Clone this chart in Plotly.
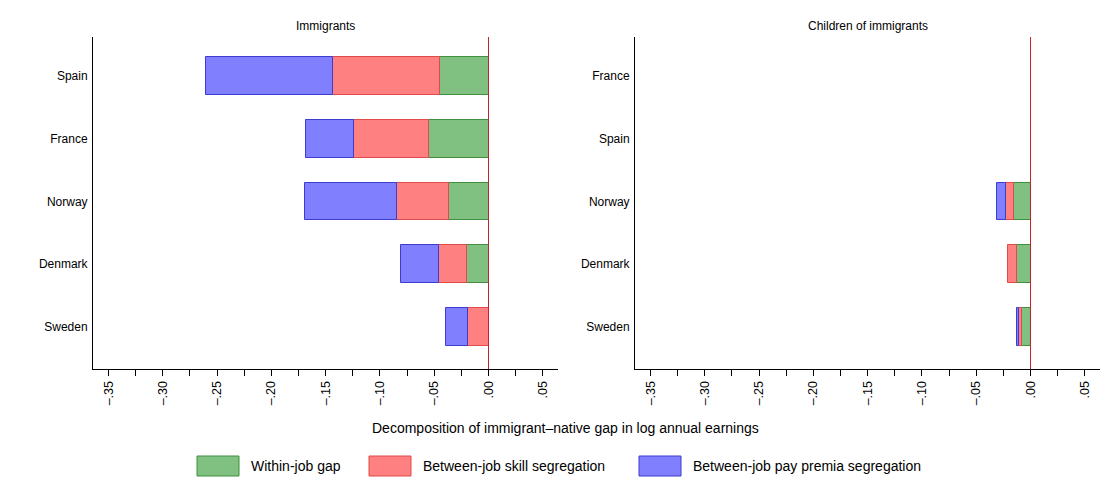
import plotly.graph_objects as go

# ---- data ----
countries_imm = ["Spain", "France", "Norway", "Denmark", "Sweden"]
within_imm = [-0.045, -0.055, -0.036, -0.020, 0.0]
skill_imm = [-0.098, -0.069, -0.048, -0.026, -0.019]
premia_imm = [-0.117, -0.044, -0.085, -0.035, -0.020]

countries_child = ["France", "Spain", "Norway", "Denmark", "Sweden"]
within_child = [None, None, -0.015, -0.012, -0.0075]
skill_child = [None, None, -0.0075, -0.0087, -0.003]
premia_child = [None, None, -0.008, 0.0004, -0.0016]

series_names = ["Within-job gap", "Between-job skill segregation", "Between-job pay premia segregation"]
panel_titles = ["Immigrants", "Children of immigrants"]
tick_vals = [-0.35, -0.30, -0.25, -0.20, -0.15, -0.10, -0.05, 0.0, 0.05]
tick_text = ["\u2013.35", "\u2013.30", "\u2013.25", "\u2013.20", "\u2013.15", "\u2013.10", "\u2013.05", ".00", ".05"]
minor_vals = [-0.325, -0.275, -0.225, -0.175, -0.125, -0.075, -0.025, 0.025]
x_title = "Decomposition of immigrant\u2013native gap in log annual earnings"

fills = ["#80c080", "#ff8080", "#8080ff"]
edges = ["#3f8f3f", "#e04a4a", "#3c3cd0"]
FONT = "Liberation Sans, Arial, sans-serif"

W, H = 1111, 490
OFF = 8  # page body margin


def px(x):
    return (x - OFF) / W


def py(y):
    return 1 - (y - OFF) / H


fig = go.Figure()

panels = [
    (countries_imm, [within_imm, skill_imm, premia_imm], "x", "y"),
    (countries_child, [within_child, skill_child, premia_child], "x2", "y2"),
]
for cats, vals, xa, ya in panels:
    for i, v in enumerate(vals):
        fig.add_trace(go.Bar(
            y=cats, x=v, orientation="h", name=series_names[i],
            marker=dict(color=fills[i], line=dict(color=edges[i], width=1)),
            width=0.6, xaxis=xa, yaxis=ya, showlegend=False,
        ))

x_range = [-0.3643, 0.064]
y_top, y_bot = py(37), py(369)


def xax(domain, anchor):
    return dict(
        domain=domain, anchor=anchor, range=x_range, showgrid=False, zeroline=False,
        showline=True, linecolor="black", linewidth=1,
        tickmode="array", tickvals=tick_vals, ticktext=tick_text, tickangle=-90,
        ticks="outside", ticklen=6, tickcolor="black", tickwidth=1,
        minor=dict(tickvals=minor_vals, ticks="outside", ticklen=6,
                   tickcolor="black", tickwidth=1),
        tickfont=dict(family=FONT, size=12.5, color="black"),
        ticklabelstandoff=0,
    )


def yax(domain, anchor, cats):
    return dict(
        domain=domain, anchor=anchor, type="category", categoryorder="array",
        categoryarray=cats, range=[4.669, -0.6215], showgrid=False, zeroline=False,
        showline=True, linecolor="black", linewidth=1, ticks="",
        tickfont=dict(family=FONT, size=12, color="black"), ticklabelstandoff=2,
    )


fig.update_layout(
    width=W, height=H, barmode="relative", bargap=0,
    paper_bgcolor="white", plot_bgcolor="white",
    margin=dict(l=0, r=0, t=0, b=0),
    xaxis=xax([px(93), px(558)], "y"),
    yaxis=yax([y_bot, y_top], "x", countries_imm),
    xaxis2=xax([px(635), px(1100)], "y2"),
    yaxis2=yax([y_bot, y_top], "x2", countries_child),
    showlegend=False,
    font=dict(family=FONT, color="black"),
)

# zero lines
for xa in ["x", "x2"]:
    fig.add_shape(type="line", xref=xa, yref="paper", x0=0, x1=0, y0=y_bot, y1=y_top,
                  line=dict(color="#c8202a", width=1), layer="above")

# panel titles
for t, xc in zip(panel_titles, [(93 + 558) / 2, (635 + 1100) / 2]):
    fig.add_annotation(text=t, x=px(xc), y=py(26), xref="paper", yref="paper",
                       showarrow=False, font=dict(family=FONT, size=12, color="black"),
                       xanchor="center", yanchor="middle")

# shared x title
fig.add_annotation(text=x_title, x=px(565), y=py(428), xref="paper", yref="paper",
                   showarrow=False, font=dict(family=FONT, size=14, color="black"),
                   xanchor="center", yanchor="middle")

# custom legend
box_x = [197, 369, 639]
for i, name in enumerate(series_names):
    x0 = box_x[i]
    fig.add_shape(type="rect", xref="paper", yref="paper",
                  x0=px(x0), x1=px(x0 + 42), y0=py(476), y1=py(456),
                  fillcolor=fills[i], line=dict(color=edges[i], width=1))
    fig.add_annotation(text=name, x=px(x0 + 52), y=py(466), xref="paper", yref="paper",
                       showarrow=False, font=dict(family=FONT, size=14, color="black"),
                       xanchor="left", yanchor="middle")

fig.write_html("out.html")
